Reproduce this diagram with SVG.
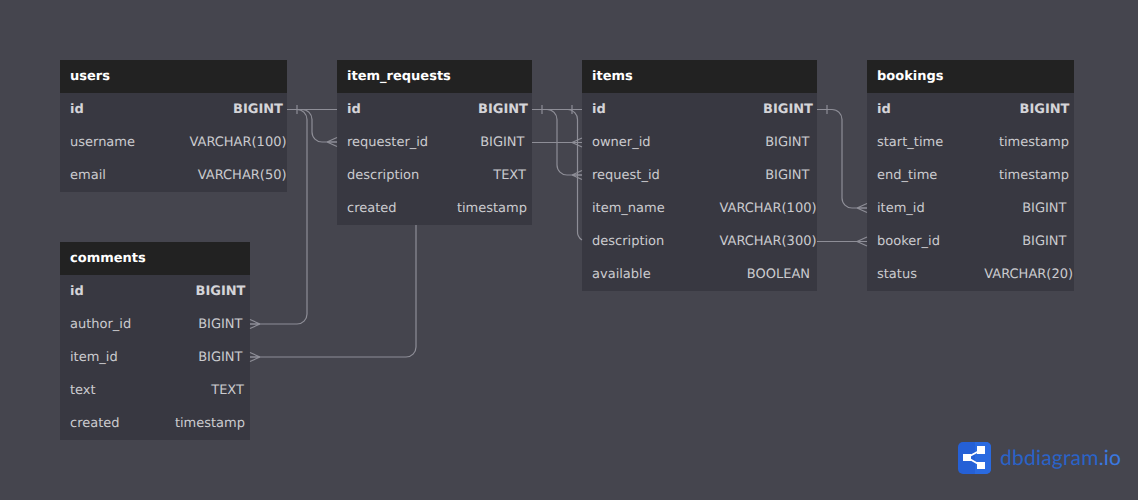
<svg xmlns="http://www.w3.org/2000/svg" width="1138" height="500" viewBox="0 0 1138 500">
<style>
text{font-family:"DejaVu Sans",sans-serif;font-size:13px;fill:#cbcbcf;text-rendering:geometricPrecision}
.b{fill:#383841}.h{fill:#222222}
.t{font-weight:700;fill:#ffffff}
.k{font-weight:700;fill:#d4d4d8}
.e{text-anchor:end}
.c{fill:none;stroke:#8e8e97;stroke-width:1.2}
.logo{font-family:"Lato",sans-serif;font-size:21px;fill:#2a63c8}
</style>
<defs>
<path id="cl" class="c" d="M-10 0L0 -4.500M-10 0H0M-10 0L0 4.500"/>
<path id="cr" class="c" d="M10 0L0 -4.500M10 0H0M10 0L0 4.500"/>
</defs>
<rect width="1138" height="500" fill="#45454e"/>
<g id="users">
<rect class="b" x="60" y="60" width="227" height="132"/><rect class="h" x="60" y="60" width="227" height="33"/>
<text class="t" x="70" y="80">users</text>
<text class="k" x="70" y="113">id</text><text class="k e" x="283" y="113">BIGINT</text>
<text x="70" y="146">username</text><text class="e" x="286.500" y="146">VARCHAR(100)</text>
<text x="70" y="179">email</text><text class="e" x="286.500" y="179">VARCHAR(50)</text>
</g>
<g id="item_requests">
<rect class="b" x="337" y="60" width="195" height="165"/><rect class="h" x="337" y="60" width="195" height="33"/>
<text class="t" x="347" y="80">item_requests</text>
<text class="k" x="347" y="113">id</text><text class="k e" x="528" y="113">BIGINT</text>
<text x="347" y="146">requester_id</text><text class="e" x="524.500" y="146">BIGINT</text>
<text x="347" y="179">description</text><text class="e" x="526" y="179">TEXT</text>
<text x="347" y="212">created</text><text class="e" x="527" y="212">timestamp</text>
</g>
<g id="items">
<rect class="b" x="582" y="60" width="235" height="231"/><rect class="h" x="582" y="60" width="235" height="33"/>
<text class="t" x="592" y="80">items</text>
<text class="k" x="592" y="113">id</text><text class="k e" x="813" y="113">BIGINT</text>
<text x="592" y="146">owner_id</text><text class="e" x="809.500" y="146">BIGINT</text>
<text x="592" y="179">request_id</text><text class="e" x="809.500" y="179">BIGINT</text>
<text x="592" y="212">item_name</text><text class="e" x="816.500" y="212">VARCHAR(100)</text>
<text x="592" y="245">description</text><text class="e" x="816.500" y="245">VARCHAR(300)</text>
<text x="592" y="278">available</text><text class="e" x="810" y="278">BOOLEAN</text>
</g>
<g id="bookings">
<rect class="b" x="867" y="60" width="207" height="231"/><rect class="h" x="867" y="60" width="207" height="33"/>
<text class="t" x="877" y="80">bookings</text>
<text class="k" x="877" y="113">id</text><text class="k e" x="1069.500" y="113">BIGINT</text>
<text x="877" y="146">start_time</text><text class="e" x="1069" y="146">timestamp</text>
<text x="877" y="179">end_time</text><text class="e" x="1069" y="179">timestamp</text>
<text x="877" y="212">item_id</text><text class="e" x="1066.500" y="212">BIGINT</text>
<text x="877" y="245">booker_id</text><text class="e" x="1066.500" y="245">BIGINT</text>
<text x="877" y="278">status</text><text class="e" x="1073" y="278">VARCHAR(20)</text>
</g>
<g id="comments">
<rect class="b" x="60" y="242" width="190" height="198"/><rect class="h" x="60" y="242" width="190" height="33"/>
<text class="t" x="70" y="262">comments</text>
<text class="k" x="70" y="295">id</text><text class="k e" x="245.500" y="295">BIGINT</text>
<text x="70" y="328">author_id</text><text class="e" x="242.500" y="328">BIGINT</text>
<text x="70" y="361">item_id</text><text class="e" x="242.500" y="361">BIGINT</text>
<text x="70" y="394">text</text><text class="e" x="244" y="394">TEXT</text>
<text x="70" y="427">created</text><text class="e" x="245" y="427">timestamp</text>
</g>
<g id="connectors">
<path class="c" d="M287 109.500H337M297 105V114"/>
<path class="c" d="M287 109.500H302a10 10 0 0 1 10 10V132a10 10 0 0 0 10 10H337"/>
<path class="c" d="M287 109.500H297a10 10 0 0 1 10 10V314a10 10 0 0 1 -10 10H250"/>
<path class="c" d="M416 225V347a10 10 0 0 1 -10 10H250"/>
<path class="c" d="M532 109.500H582M542 105V114M572 105V114"/>
<path class="c" d="M532 109.500H547a10 10 0 0 1 10 10V165a10 10 0 0 0 10 10H582"/>
<path class="c" d="M532 142.500H582"/>
<path class="c" d="M532 109.500H568a10 10 0 0 1 9.500 10V231a10 10 0 0 0 4.500 9"/>
<path class="c" d="M817 109.500H832a10 10 0 0 1 10 10V198a10 10 0 0 0 10 10H867M827 105V114"/>
<path class="c" d="M817 241.500H867"/>
<use href="#cl" x="582" y="142.500"/><use href="#cl" x="582" y="175"/>
<use href="#cl" x="337" y="142"/>
<use href="#cl" x="867" y="208"/><use href="#cl" x="867" y="241.500"/>
<use href="#cr" x="250" y="324"/><use href="#cr" x="250" y="357"/>
</g>
<g id="logo">
<rect x="958" y="442" width="33" height="32" rx="5" fill="#2560d6"/>
<path d="M975 442H986a5 5 0 0 1 5 5V469a5 5 0 0 1 -5 5H975Z" fill="#2a6ae0"/>
<path d="M967 457.500L981 450M967 457.500L981 465.500" fill="none" stroke="#fff" stroke-width="1.800"/>
<rect x="963" y="454" width="8" height="7" fill="#fff"/><rect x="977" y="446" width="8" height="8" fill="#fff"/><rect x="977" y="462" width="8" height="7" fill="#fff"/>
<text class="logo" x="1000" y="464.500" textLength="121">dbdiagram<tspan fill="#3a79e0">.io</tspan></text>
</g>
</svg>
